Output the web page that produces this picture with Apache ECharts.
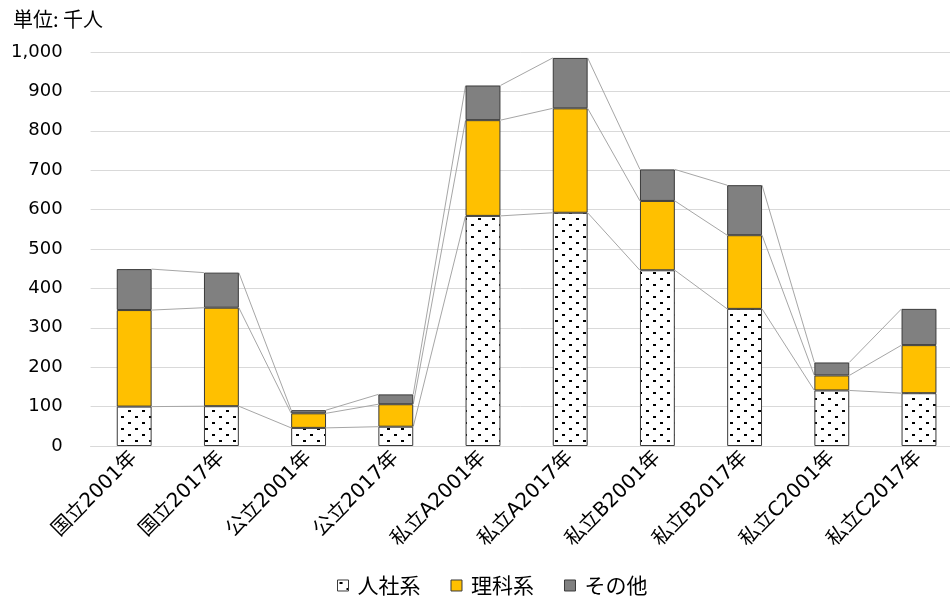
<!DOCTYPE html>
<html>
<head>
<meta charset="utf-8">
<script src="https://cdn.jsdelivr.net/npm/echarts@6/dist/echarts.min.js"></script>
<style>
  html, body { margin: 0; padding: 0; background: #fff; }
  #chart { width: 950px; height: 600px; }
</style>
</head>
<body>
<div id="chart"></div>
<script>
// Students by university type and year (thousands)
const categories = ['国立2001年', '国立2017年', '公立2001年', '公立2017年', '私立A2001年',
                    '私立A2017年', '私立B2001年', '私立B2017年', '私立C2001年', '私立C2017年'];
const humanities = [100, 101, 46, 49, 584, 592, 446, 348, 141, 134];   // 人社系
const science    = [245, 250, 37, 57, 243, 265, 176, 187, 38, 122];    // 理科系
const others     = [104, 89, 8, 25, 88, 128, 80, 127, 33, 92];         // その他
const seriesNames = ['人社系', '理科系', 'その他'];
const yTicks = { min: 0, max: 1000, interval: 100 };

const FONT = '"DejaVu Sans", "Noto Sans CJK JP", sans-serif';
const CJK_FONT = '"Noto Sans CJK JP", "DejaVu Sans", sans-serif';
const BAR_RATIO = 0.4;

// Dotted fill for the first stack segment
function dotPattern() {
  const c = document.createElement('canvas');
  c.width = 14; c.height = 12;
  const ctx = c.getContext('2d');
  ctx.fillStyle = '#fff';
  ctx.fillRect(0, 0, 14, 12);
  ctx.fillStyle = '#000';
  ctx.fillRect(2, 2, 3, 2);
  ctx.fillRect(9, 8, 3, 2);
  return c;
}

// Cumulative tops of each stack level, used for the connector lines
const levels = [humanities, science, others];
const cumulative = [];
let running = categories.map(() => 0);
levels.forEach(arr => {
  running = running.map((v, i) => v + arr[i]);
  cumulative.push(running.slice());
});

const borderStyle = { borderColor: '#3a3a3a', borderWidth: 1 };

const chart = echarts.init(document.getElementById('chart'), null, { renderer: 'canvas' });

chart.setOption({
  animation: false,
  backgroundColor: '#fff',
  textStyle: { fontFamily: FONT },
  graphic: [{
    type: 'text', left: 13, top: 9,
    style: { text: '単位: 千人', font: '20px ' + CJK_FONT, fill: '#000' }
  }],
  grid: {
    left: 90.6, top: 52, width: 872, height: 394,
    containLabel: false, outerBoundsMode: 'none'
  },
  legend: {
    data: seriesNames,
    left: 332, top: 570,
    icon: 'rect', itemWidth: 11, itemHeight: 11, itemGap: 30, itemStyle: { borderWidth: 1 },
    textStyle: { fontSize: 21, color: '#000', fontFamily: CJK_FONT, padding: [0, 0, 0, 4] }
  },
  xAxis: {
    type: 'category',
    data: categories,
    axisLine: { lineStyle: { color: '#d9d9d9', width: 1 } },
    axisTick: { show: false },
    axisLabel: { rotate: 45, fontSize: 20, color: '#000', margin: 9, interval: 0, fontFamily: FONT }
  },
  yAxis: {
    type: 'value',
    min: yTicks.min, max: yTicks.max, interval: yTicks.interval,
    axisLine: { show: false },
    axisTick: { show: false },
    splitLine: { lineStyle: { color: '#d9d9d9', width: 1 } },
    axisLabel: {
      fontSize: 18, color: '#000', margin: 28, fontFamily: FONT,
      formatter: v => v.toLocaleString('en-US')
    }
  },
  series: [
    {
      name: seriesNames[0], type: 'bar', stack: 'total', barWidth: '40%',
      data: humanities,
      itemStyle: Object.assign({ color: { image: dotPattern(), repeat: 'repeat' } }, borderStyle)
    },
    {
      name: seriesNames[1], type: 'bar', stack: 'total', barWidth: '40%',
      data: science,
      itemStyle: Object.assign({ color: '#ffc000' }, borderStyle)
    },
    {
      name: seriesNames[2], type: 'bar', stack: 'total', barWidth: '40%',
      data: others,
      itemStyle: Object.assign({ color: '#808080' }, borderStyle)
    },
    {
      // Series lines joining matching stack levels of neighbouring bars
      type: 'custom',
      silent: true,
      z: 1,
      data: categories.slice(0, -1).map((_, i) => [i]),
      renderItem: function (params, api) {
        const i = api.value(0);
        const half = api.size([1, 0])[0] * BAR_RATIO / 2;
        const children = cumulative.map(level => {
          const a = api.coord([i, level[i]]);
          const b = api.coord([i + 1, level[i + 1]]);
          return {
            type: 'line',
            shape: { x1: a[0] + half, y1: a[1], x2: b[0] - half, y2: b[1] },
            style: { stroke: '#a6a6a6', lineWidth: 1 }
          };
        });
        return { type: 'group', children: children };
      }
    }
  ]
});
</script>
</body>
</html>
